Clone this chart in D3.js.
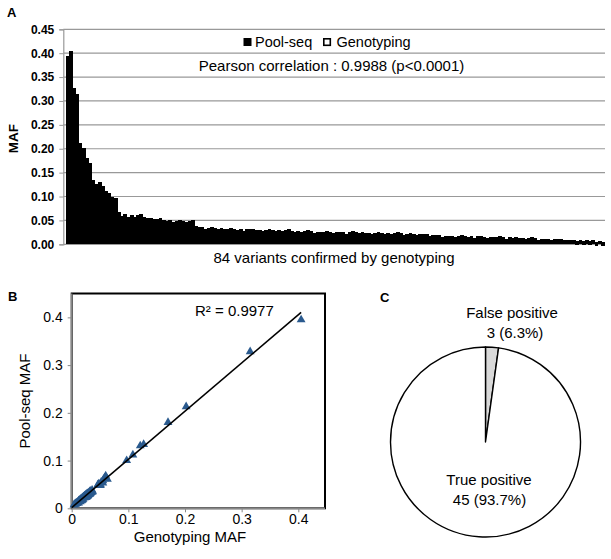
<!DOCTYPE html>
<html>
<head>
<meta charset="utf-8">
<script src="https://cdn.jsdelivr.net/npm/d3@7"></script>
<style>
  html, body { margin: 0; padding: 0; background: #fff; }
  svg { display: block; font-family: "Liberation Sans", Arial, sans-serif; }
</style>
</head>
<body>
<svg id="chart" width="611" height="559"></svg>
<script>
// ---------- DATA ----------
// Panel A / B: minor allele frequency per confirmed variant (84 variants)
const poolSeq = [
  0.395,0.328,0.213,0.180,0.134,0.131,0.112,0.100,0.068,0.064,
  0.062,0.061,0.058,0.055,0.053,0.051,0.050,0.049,0.049,0.048,
  0.038,0.036,0.035,0.035,0.034,0.033,0.032,0.031,0.031,0.031,
  0.030,0.030,0.030,0.029,0.029,0.028,0.028,0.027,0.027,0.026,
  0.026,0.026,0.026,0.025,0.025,0.025,0.025,0.024,0.024,0.024,
  0.023,0.023,0.023,0.022,0.022,0.022,0.021,0.019,0.019,0.018,
  0.018,0.018,0.017,0.017,0.017,0.016,0.016,0.016,0.015,0.015,
  0.015,0.014,0.014,0.013,0.012,0.011,0.011,0.011,0.010,0.010,
  0.009,0.009,0.008,0.007
];
const genotyping = [
  0.405,0.315,0.202,0.170,0.127,0.121,0.108,0.097,0.060,0.058,
  0.058,0.063,0.055,0.052,0.055,0.048,0.047,0.051,0.046,0.050,
  0.036,0.033,0.037,0.032,0.031,0.035,0.030,0.028,0.033,0.029,
  0.028,0.032,0.027,0.027,0.031,0.025,0.026,0.029,0.024,0.025,
  0.028,0.023,0.025,0.022,0.027,0.023,0.024,0.021,0.026,0.022,
  0.021,0.025,0.020,0.023,0.019,0.021,0.018,0.020,0.016,0.017,
  0.016,0.019,0.015,0.014,0.018,0.013,0.015,0.017,0.012,0.014,
  0.013,0.012,0.015,0.010,0.011,0.009,0.012,0.008,0.009,0.007,
  0.007,0.006,0.005,0.004
];
const seriesNames = ["Pool-seq", "Genotyping"];
const yTicksA = [0,0.05,0.10,0.15,0.20,0.25,0.30,0.35,0.40,0.45];
const ticksB = [0,0.1,0.2,0.3,0.4];
const rSquaredLabel = "R\u00B2 = 0.9977";
const pearsonLabel = "Pearson correlation : 0.9988 (p<0.0001)";
// Panel C
const pieCategories = ["False positive", "True positive"];
const pieCounts = [3, 45];
const piePercents = ["6.3%", "93.7%"];
// angular share of each slice as drawn in the figure
const pieDrawnShare = [0.022, 0.978];

const svg = d3.select("#chart");
const FONT = '"Liberation Sans", Arial, sans-serif';

// ---------- PANEL A ----------
const A = { left: 63.3, right: 605, top: 29.3, bottom: 244.3 };
const yA = d3.scaleLinear().domain([0, 0.45]).range([A.bottom, A.top]);
const xA = d3.scaleBand().domain(d3.range(poolSeq.length)).range([66, 604.5]).padding(0);
const xSub = d3.scaleBand().domain(seriesNames).range([0, xA.bandwidth()]).padding(0);

const gA = svg.append("g");
gA.append("text").attr("x", 7).attr("y", 17).attr("font-size", 13).attr("font-weight", "bold").text("A");

// gridlines
gA.selectAll("line.grid").data(yTicksA).join("line").attr("class", "grid")
  .attr("x1", A.left).attr("x2", A.right)
  .attr("y1", d => yA(d)).attr("y2", d => yA(d))
  .attr("stroke", "#999").attr("stroke-width", 1.2);

// y axis
const axA = d3.axisLeft(yA).tickValues(yTicksA).tickFormat(d3.format(".2f")).tickSize(4).tickPadding(5);
const gAx = gA.append("g").attr("transform", `translate(${A.left},0)`).call(axA);
gAx.select(".domain").attr("stroke", "#999").attr("stroke-width", 1.2);
gAx.selectAll(".tick line").attr("stroke", "#999");
gAx.selectAll(".tick text").attr("font-size", 12).attr("font-weight", "bold")
   .attr("font-family", FONT).attr("fill", "#000");

// bars: genotyping = white fill inside a black outline (outline fills them at this width)
const bw = xSub.bandwidth();
const sw = bw + 0.6;
const gBars = gA.append("g").attr("shape-rendering", "crispEdges");
gBars.selectAll("rect.geno").data(genotyping).join("rect").attr("class", "geno")
  .attr("x", (d, i) => xA(i) + xSub("Genotyping") + bw / 2 - 0.01)
  .attr("y", d => yA(d) + sw / 2)
  .attr("width", 0.02)
  .attr("height", d => Math.max(0.01, yA(0) - yA(d) - sw))
  .attr("fill", "#fff").attr("stroke", "#000").attr("stroke-width", sw);
gBars.selectAll("rect.pool").data(poolSeq).join("rect").attr("class", "pool")
  .attr("x", (d, i) => xA(i) + xSub("Pool-seq") - 0.3)
  .attr("y", d => yA(d))
  .attr("width", bw + 0.6)
  .attr("height", d => yA(0) - yA(d))
  .attr("fill", "#000");

// legend
const leg = gA.append("g");
leg.append("rect").attr("x", 243.5).attr("y", 38).attr("width", 8).attr("height", 8).attr("fill", "#000");
leg.append("text").attr("x", 255).attr("y", 46.5).attr("font-size", 14.5).text(seriesNames[0]);
leg.append("rect").attr("x", 323.8).attr("y", 38.8).attr("width", 6.5).attr("height", 6.5)
   .attr("fill", "#fff").attr("stroke", "#000").attr("stroke-width", 1.6);
leg.append("text").attr("x", 336.5).attr("y", 46.5).attr("font-size", 14.5).text(seriesNames[1]);
gA.append("text").attr("x", 331.5).attr("y", 71).attr("text-anchor", "middle").attr("font-size", 15).text(pearsonLabel);

gA.append("text").attr("x", 334).attr("y", 263).attr("text-anchor", "middle").attr("font-size", 15)
  .text(`${poolSeq.length} variants confirmed by genotyping`);
gA.append("text").attr("transform", "translate(18,138.5) rotate(-90)").attr("text-anchor", "middle")
  .attr("font-size", 13.5).attr("font-weight", "bold").text("MAF");

// ---------- PANEL B ----------
const B = { left: 71.7, right: 325, top: 293.5, bottom: 508.3 };
const xB = d3.scaleLinear().domain([0, 0.4]).range([B.left, 298.3]);
const yB = d3.scaleLinear().domain([0, 0.45]).range([B.bottom, B.top]);
const gB = svg.append("g");
gB.append("text").attr("x", 8).attr("y", 300.5).attr("font-size", 13).attr("font-weight", "bold").text("B");

gB.append("rect").attr("x", B.left).attr("y", B.top).attr("width", B.right - B.left).attr("height", B.bottom - B.top)
  .attr("fill", "none").attr("stroke", "#000").attr("stroke-width", 2);

const fmtB = d => d === 0 ? "0" : d3.format(".1f")(d);
const axBx = d3.axisBottom(xB).tickValues(ticksB).tickFormat(fmtB).tickSize(4).tickPadding(2);
const gBx = gB.append("g").attr("transform", `translate(0,${B.bottom})`).call(axBx);
gBx.select(".domain").remove();
gBx.append("line").attr("x1", B.left).attr("x2", B.right).attr("stroke", "#888").attr("stroke-width", 1.5);
gBx.selectAll(".tick line").attr("stroke", "#888");
gBx.selectAll(".tick text").attr("font-size", 14).attr("font-family", FONT).attr("fill", "#000");

const axBy = d3.axisLeft(yB).tickValues(ticksB).tickFormat(fmtB).tickSize(4).tickPadding(5);
const gBy = gB.append("g").attr("transform", `translate(${B.left},0)`).call(axBy);
gBy.select(".domain").remove();
gBy.append("line").attr("y1", B.top).attr("y2", B.bottom).attr("stroke", "#888").attr("stroke-width", 1.5);
gBy.selectAll(".tick line").attr("stroke", "#888");
gBy.selectAll(".tick text").attr("font-size", 14).attr("font-family", FONT).attr("fill", "#000");

// points
const pts = genotyping.map((g, i) => [g, poolSeq[i]]);
gB.selectAll("path.pt").data(pts).join("path").attr("class", "pt")
  .attr("transform", d => `translate(${xB(d[0])},${yB(d[1])})`)
  .attr("d", d3.symbol(d3.symbolTriangle).size(34))
  .attr("fill", "#2a5a8e");

// least-squares trend line
const mx = d3.mean(pts, d => d[0]), my = d3.mean(pts, d => d[1]);
const slope = d3.sum(pts, d => (d[0] - mx) * (d[1] - my)) / d3.sum(pts, d => (d[0] - mx) ** 2);
const icpt = my - slope * mx;
const xMin = 0, xMax = d3.max(genotyping);
gB.append("line")
  .attr("x1", xB(xMin)).attr("y1", yB(Math.max(0, icpt + slope * xMin)))
  .attr("x2", xB(xMax)).attr("y2", yB(icpt + slope * xMax))
  .attr("stroke", "#000").attr("stroke-width", 1.6);

gB.append("text").attr("x", 195).attr("y", 315.5).attr("font-size", 15).text(rSquaredLabel);
gB.append("text").attr("x", 190).attr("y", 542).attr("text-anchor", "middle").attr("font-size", 15).text("Genotyping MAF");
gB.append("text").attr("transform", "translate(30,401) rotate(-90)").attr("text-anchor", "middle")
  .attr("font-size", 15).text("Pool-seq MAF");

// ---------- PANEL C ----------
const gC = svg.append("g");
gC.append("text").attr("x", 380).attr("y", 302).attr("font-size", 13).attr("font-weight", "bold").text("C");
const cx = 485.5, cy = 442, R = 95;
const pie = d3.pie().sort(null).value(d => d)(pieDrawnShare);
const arc = d3.arc().innerRadius(0).outerRadius(R);
const gPie = gC.append("g").attr("transform", `translate(${cx},${cy})`);
gPie.selectAll("path").data(pie).join("path")
  .attr("d", arc)
  .attr("fill", (d, i) => i === 0 ? "#d9d9d9" : "#fff")
  .attr("stroke", "#000").attr("stroke-width", 1.4).attr("stroke-linejoin", "round");

gC.append("text").attr("x", 512).attr("y", 318).attr("text-anchor", "middle").attr("font-size", 15).text(pieCategories[0]);
gC.append("text").attr("x", 515).attr("y", 338).attr("text-anchor", "middle").attr("font-size", 15)
  .text(`${pieCounts[0]} (${piePercents[0]})`);
gC.append("text").attr("x", 489).attr("y", 485).attr("text-anchor", "middle").attr("font-size", 15).text(pieCategories[1]);
gC.append("text").attr("x", 489.5).attr("y", 505).attr("text-anchor", "middle").attr("font-size", 15)
  .text(`${pieCounts[1]} (${piePercents[1]})`);
</script>
</body>
</html>
